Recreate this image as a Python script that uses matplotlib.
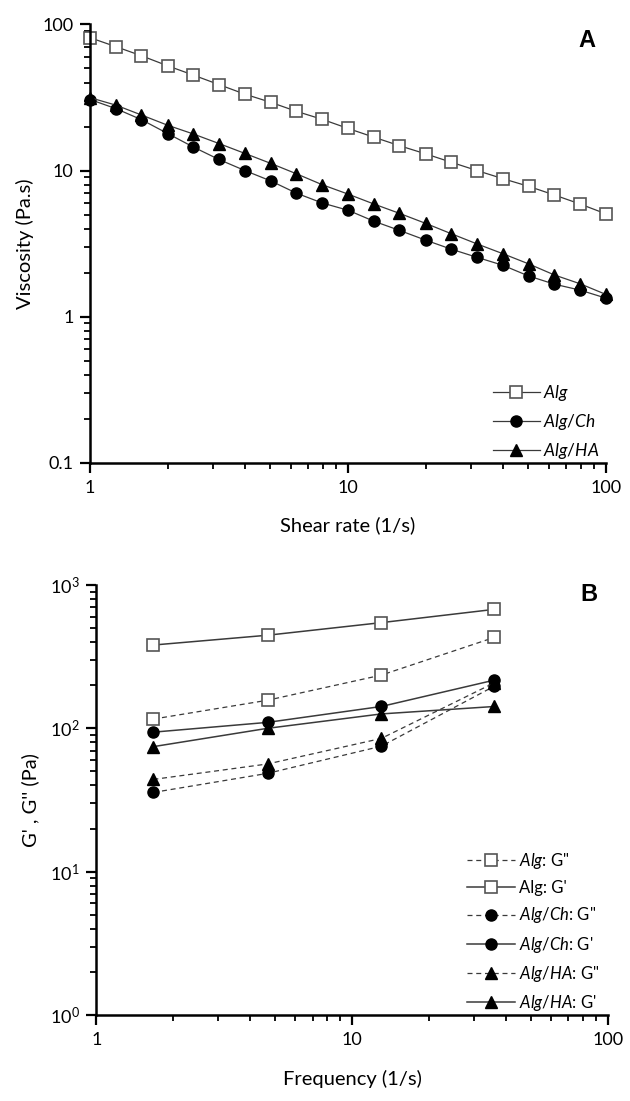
import numpy as np
import matplotlib
matplotlib.use("Agg")
import matplotlib.pyplot as plt

plt.rcParams['font.family'] = ['Lato', 'DejaVu Sans']
plt.rcParams['mathtext.fontset'] = 'custom'
plt.rcParams['mathtext.rm'] = 'Lato'
plt.rcParams['mathtext.it'] = 'Lato:italic'

# panel A: viscosity vs shear rate
shear_rate = [1, 1.26, 1.58, 2, 2.51, 3.16, 3.98, 5.01, 6.31, 7.94, 10,
              12.6, 15.8, 20, 25.1, 31.6, 39.8, 50.1, 63.1, 79.4, 100]
visc_alg = [81, 70.3, 61, 52, 45, 38.7, 33.3, 29.3, 25.4, 22.4, 19.4,
            16.9, 14.8, 13, 11.4, 10, 8.8, 7.8, 6.8, 5.9, 5.05]
visc_alg_ch = [30.6, 26.5, 22.3, 17.9, 14.5, 11.9, 10, 8.5, 7.0, 6.0, 5.35,
               4.5, 3.9, 3.34, 2.9, 2.55, 2.25, 1.9, 1.67, 1.52, 1.34]
visc_alg_ha = [31.5, 28, 24, 20.4, 17.8, 15.3, 13.1, 11.2, 9.5, 8.0, 6.9,
               5.9, 5.1, 4.35, 3.7, 3.15, 2.7, 2.3, 1.93, 1.68, 1.42]

# panel B: moduli vs frequency
freq = [1.67, 4.67, 13, 36]
alg_g2 = [116, 157, 235, 431]
alg_g1 = [381, 446, 546, 676]
ch_g2 = [35.7, 48.5, 75, 197]
ch_g1 = [94, 110, 142, 217]
ha_g2 = [44, 56.4, 85, 208]
ha_g1 = [74.5, 100, 126, 142]

fig = plt.figure(figsize=(6.3, 11.01), dpi=100)
axA = fig.add_axes([0.143, 0.5795, 0.819, 0.3984])
axB = fig.add_axes([0.153, 0.0781, 0.812, 0.3906])

line_c = '#3a3a3a'
sq = dict(marker='s', mfc='white', mec='#555555', mew=1.2, ms=8)
ci = dict(marker='o', mfc='black', mec='black', ms=8)
tr = dict(marker='^', mfc='black', mec='black', ms=9)
dash = (0, (4, 3))

axA.plot(shear_rate, visc_alg, color=line_c, lw=0.9, clip_on=False, label=r'$\mathit{Alg}$', **sq)
axA.plot(shear_rate, visc_alg_ch, color=line_c, lw=0.9, clip_on=False, label=r'$\mathit{Alg/Ch}$', **ci)
axA.plot(shear_rate, visc_alg_ha, color=line_c, lw=0.9, clip_on=False, label=r'$\mathit{Alg/HA}$', **tr)

axB.plot(freq, alg_g2, color=line_c, lw=0.9, ls=dash, clip_on=False, label=r'$\mathit{Alg}$: G"', **sq)
axB.plot(freq, alg_g1, color=line_c, lw=1.1, clip_on=False, label="Alg: G'", **sq)
axB.plot(freq, ch_g2, color=line_c, lw=0.9, ls=dash, clip_on=False, label=r'$\mathit{Alg/Ch}$: G"', **ci)
axB.plot(freq, ch_g1, color=line_c, lw=1.1, clip_on=False, label=r"$\mathit{Alg/Ch}$: G'", **ci)
axB.plot(freq, ha_g2, color=line_c, lw=0.9, ls=dash, clip_on=False, label=r'$\mathit{Alg/HA}$: G"', **tr)
axB.plot(freq, ha_g1, color=line_c, lw=1.1, clip_on=False, label=r"$\mathit{Alg/HA}$: G'", **tr)

for ax in (axA, axB):
    ax.set_xscale('log')
    ax.set_yscale('log')
    ax.set_xlim(1, 100)
    ax.spines['top'].set_visible(False)
    ax.spines['right'].set_visible(False)
    ax.spines['left'].set_linewidth(1.8)
    ax.spines['bottom'].set_linewidth(1.8)
    ax.tick_params(which='major', direction='out', length=7, width=1.6, labelsize=13, pad=5)
    ax.tick_params(which='minor', direction='out', length=4.5, width=1.3)

axA.set_ylim(0.1, 100)
axA.set_xticks([1, 10, 100])
axA.set_xticklabels(['1', '10', '100'])
axA.set_yticks([0.1, 1, 10, 100])
axA.set_yticklabels(['0.1', '1', '10', '100'])
axA.set_xlabel('Shear rate (1/s)', fontsize=14.5, labelpad=15)
axA.set_ylabel('Viscosity (Pa.s)', fontsize=14.5, labelpad=6)
axA.text(0.963, 0.964, 'A', transform=axA.transAxes, fontsize=17, fontweight='bold',
         family='Liberation Sans', ha='center', va='center')
axA.legend(loc='lower left', bbox_to_anchor=(0.78, 0.005), frameon=False, fontsize=12.5,
           handlelength=2.75, handletextpad=0.15, labelspacing=0.5, borderpad=0, borderaxespad=0)

axB.set_ylim(1, 1000)
axB.set_xticks([1, 10, 100])
axB.set_xticklabels(['1', '10', '100'])
axB.set_xlabel('Frequency (1/s)', fontsize=14.5, labelpad=16)
axB.set_ylabel("G' , G'' (Pa)", fontsize=14.5, labelpad=8)
axB.text(0.963, 0.977, 'B', transform=axB.transAxes, fontsize=17, fontweight='bold',
         family='Liberation Sans', ha='center', va='center')
axB.legend(loc='lower left', bbox_to_anchor=(0.725, 0.005), frameon=False, fontsize=12,
           handlelength=2.85, handletextpad=0.25, labelspacing=0.55, borderpad=0, borderaxespad=0)

fig.savefig('out.png', dpi=100)
